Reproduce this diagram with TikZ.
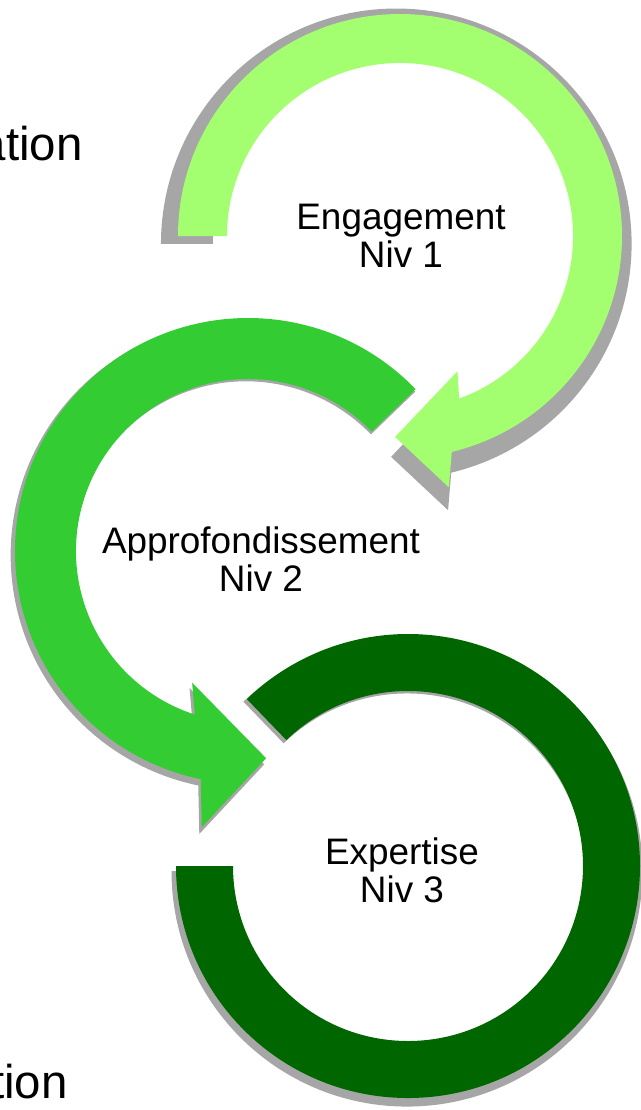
\documentclass[tikz,border=0pt]{standalone}
\usepackage{fontspec}
\setmainfont{Liberation Sans}
\usepackage{xcolor}
\usepackage{tikz}
\usetikzlibrary{calc}

\definecolor{nivone}{RGB}{164,255,112}
\definecolor{nivtwo}{RGB}{51,204,51}
\definecolor{nivthree}{RGB}{0,102,0}
\definecolor{shadowgrey}{RGB}{166,166,166}

% outlines of the three circular arrows
\newcommand{\ringone}{([shift={(180:222)}]c1) arc[start angle=180, end angle=-76.5, radius=222]
    -- ([shift={(-79:256)}]c1) -- ([shift={(-91.4:201)}]c1) -- ([shift={(-67:147)}]c1)
    -- ([shift={(-70:173)}]c1) arc[start angle=-70, end angle=180, radius=173] -- cycle}
\newcommand{\ringtwo}{([shift={(44:233)}]c2) arc[start angle=44, end angle=258.3, radius=233]
    -- ([shift={(260.5:280)}]c2) -- ([shift={(275:208)}]c2) -- ([shift={(247:143)}]c2)
    -- ([shift={(252:172)}]c2) arc[start angle=252, end angle=44, radius=172] -- cycle}
\newcommand{\ringthree}{([shift={(180:232)}]c3) arc[start angle=180, end angle=494, radius=232]
    -- ([shift={(494:175)}]c3) arc[start angle=494, end angle=180, radius=175] -- cycle}

\begin{document}
\begin{tikzpicture}[
        x=0.02cm, y=0.02cm,
        ringshadow/.style={fill=shadowgrey},
        levellabel/.style={font=\fontsize{21}{21.5}\selectfont, align=center, inner sep=0pt},
        edgetext/.style={font=\fontsize{27}{30}\selectfont, inner sep=0pt, anchor=base east}
    ]
    \useasboundingbox (0,0) rectangle (641,-1110);
    \coordinate (c1) at (400,-236);
    \coordinate (c2) at (248,-551);
    \coordinate (c3) at (408,-866);

    \fill[ringshadow, transform canvas={shift={(-1,-5)}, scale around={1.015:(c3)}}] \ringthree;
    \fill[nivthree] \ringthree;
    \fill[ringshadow, transform canvas={shift={(-2,-4)}, scale around={1.01:(c2)}}] \ringtwo;
    \fill[nivtwo] \ringtwo;
    \fill[ringshadow, transform canvas={shift={(-3.5,-7.4)}, scale around={1.06:(c1)}}] \ringone;
    \fill[nivone] \ringone;

    \node[levellabel] (eng) at (401,-236) {Engagement\\Niv 1};
    \node[levellabel] (app) at (261,-559) {Approfondissement\\Niv 2};
    \node[levellabel] (exp) at (402,-870) {Expertise\\Niv 3};
    \node[edgetext] (topcut) at (83,-160) {ation};
    \node[edgetext] (botcut) at (68,-1098) {tion};
\end{tikzpicture}
\end{document}
